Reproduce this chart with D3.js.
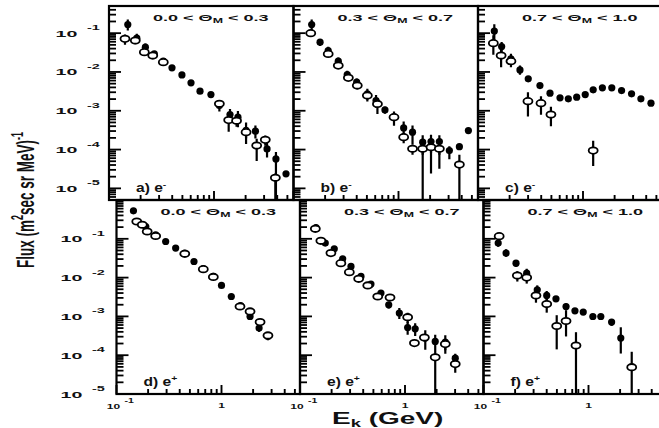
<!DOCTYPE html>
<html><head><meta charset="utf-8">
<script src="https://cdn.jsdelivr.net/npm/d3@7"></script>
<style>
  body { margin: 0; background: #fff; }
  svg { display: block; }
  text { font-family: "Liberation Sans", Arial, sans-serif; font-weight: bold; fill: #111; }
</style>
</head><body>
<svg id="chart" width="659" height="428"></svg>
<script>
// Each point: [kinetic energy (GeV), flux, relative error down, relative error up]
// Two data sets per panel: filled markers and open markers.

// a) e-, 0.0 < ΘM < 0.3
const filledA = [
  [0.151, 0.167, 0.3, 0.35], [0.184, 0.0743, 0.25, 0.3], [0.222, 0.0436, 0.2, 0.25],
  [0.270, 0.0292, 0.15, 0.15], [0.329, 0.019, 0.1, 0.1], [0.398, 0.0128, 0.1, 0.1],
  [0.495, 0.0084, 0.1, 0.1], [0.604, 0.00524, 0.15, 0.15], [0.736, 0.0032, 0.15, 0.15],
  [0.935, 0.00262, 0.15, 0.15], [1.125, 0.00136, 0.3, 0.35], [1.42, 0.000798, 0.35, 0.4],
  [1.69, 0.000684, 0.45, 0.45], [2.02, 0.000311, 0.55, 0.6], [2.48, 0.000298, 0.35, 0.4],
  [3.2, 0.000104, 0.4, 0.5], [3.89, 5.75e-5, 1, 0.5], [4.85, 2.37e-5, 0.1, 0.1]
];
const openA = [
  [0.142, 0.0713, 0.3, 0.3], [0.178, 0.0646, 0.2, 0.2], [0.217, 0.0324, 0.15, 0.15],
  [0.261, 0.0265, 0.15, 0.15], [0.329, 0.0179, 0.1, 0.1], [1.125, 0.00151, 0.2, 0.2],
  [1.38, 0.000574, 0.5, 0.6], [1.64, 0.000552, 0.3, 0.4], [2.02, 0.000281, 0.3, 0.3],
  [2.55, 0.000127, 0.6, 0.5], [3.08, 0.000178, 0.3, 0.3], [3.84, 1.87e-5, 1, 0.3]
];

// b) e-, 0.3 < ΘM < 0.7
const filledB = [
  [0.149, 0.167, 0.3, 0.35], [0.179, 0.0586, 0.2, 0.2], [0.214, 0.0357, 0.2, 0.25],
  [0.267, 0.019, 0.2, 0.25], [0.325, 0.00857, 0.2, 0.25], [0.400, 0.00546, 0.2, 0.25],
  [0.505, 0.00273, 0.3, 0.35], [0.611, 0.00183, 0.35, 0.4], [0.743, 0.00105, 0.2, 0.2],
  [0.906, 0.000684, 0.4, 0.4], [1.12, 0.000362, 0.4, 0.45], [1.36, 0.00028, 0.5, 0.5],
  [1.70, 0.000155, 1, 0.5], [2.04, 0.000161, 0.85, 0.5], [2.45, 0.000161, 0.8, 0.45],
  [3.05, 9.4e-5, 0.4, 0.3], [3.8, 0.000119, 0.1, 0.1], [4.63, 0.000309, 0.1, 0.1]
];
const openB = [
  [0.146, 0.1, 0.2, 0.25], [0.214, 0.0292, 0.15, 0.15], [0.267, 0.0146, 0.15, 0.15],
  [0.333, 0.00705, 0.15, 0.15], [0.405, 0.00447, 0.2, 0.2], [0.505, 0.00247, 0.3, 0.3],
  [0.63, 0.0015, 0.45, 0.4], [0.906, 0.000684, 0.2, 0.2], [1.12, 0.000209, 0.3, 0.3],
  [1.36, 0.000105, 0.3, 0.3], [1.70, 0.000105, 0.3, 0.3], [2.04, 0.000115, 0.3, 0.3],
  [2.45, 0.000105, 0.3, 0.3], [3.8, 4.1e-5, 1, 0.8]
];

// c) e-, 0.7 < ΘM < 1.0
const filledC = [
  [0.143, 0.113, 0.4, 0.5], [0.168, 0.0452, 0.3, 0.3], [0.206, 0.0218, 0.3, 0.35],
  [0.251, 0.0113, 0.25, 0.3], [0.301, 0.00664, 0.1, 0.1], [0.389, 0.00447, 0.15, 0.15],
  [0.485, 0.00284, 0.1, 0.1], [0.604, 0.00215, 0.1, 0.1], [0.725, 0.00203, 0.1, 0.1],
  [0.871, 0.00224, 0.1, 0.1], [1.05, 0.00262, 0.1, 0.1], [1.25, 0.00346, 0.1, 0.1],
  [1.53, 0.00389, 0.1, 0.1], [1.88, 0.00389, 0.1, 0.1], [2.33, 0.00332, 0.1, 0.1],
  [2.9, 0.00273, 0.1, 0.1], [3.56, 0.00203, 0.1, 0.1], [4.44, 0.00157, 0.1, 0.1]
];
const openC = [
  [0.14, 0.0552, 0.5, 0.6], [0.166, 0.0265, 0.5, 0.6], [0.206, 0.019, 0.3, 0.3],
  [0.299, 0.00177, 0.6, 0.7], [0.398, 0.00157, 0.5, 0.5], [0.495, 0.000798, 0.5, 0.6],
  [1.25, 9.4e-5, 0.6, 0.8]
];

// d) e+, 0.0 < ΘM < 0.3
const filledD = [
  [0.145, 0.527, 0.1, 0.1], [0.19, 0.207, 0.1, 0.1], [0.236, 0.127, 0.1, 0.1],
  [0.294, 0.0851, 0.1, 0.1], [0.366, 0.0575, 0.1, 0.1], [0.447, 0.0428, 0.1, 0.1],
  [0.547, 0.026, 0.1, 0.1], [0.671, 0.0169, 0.1, 0.1], [0.836, 0.0107, 0.1, 0.1],
  [1.0, 0.00627, 0.1, 0.1], [1.24, 0.00326, 0.1, 0.1], [1.52, 0.00191, 0.1, 0.1],
  [1.87, 0.000993, 0.15, 0.15], [2.28, 0.000499, 0.2, 0.2], [2.77, 0.000303, 0.2, 0.2]
];
const openD = [
  [0.156, 0.279, 0.1, 0.1], [0.176, 0.23, 0.1, 0.1], [0.196, 0.154, 0.1, 0.1],
  [0.236, 0.118, 0.1, 0.1], [0.447, 0.041, 0.1, 0.1], [0.671, 0.0165, 0.1, 0.1],
  [0.836, 0.0104, 0.1, 0.1], [1.5, 0.0018, 0.1, 0.1], [1.87, 0.00134, 0.1, 0.1],
  [2.33, 0.000713, 0.1, 0.1], [2.77, 0.000323, 0.1, 0.1]
];

// e) e+, 0.3 < ΘM < 0.7
const filledE = [
  [0.142, 0.195, 0.2, 0.2], [0.174, 0.0775, 0.15, 0.15], [0.212, 0.0552, 0.15, 0.15],
  [0.255, 0.0305, 0.1, 0.1], [0.306, 0.0194, 0.1, 0.1], [0.381, 0.0107, 0.1, 0.1],
  [0.474, 0.00679, 0.1, 0.1], [0.59, 0.00399, 0.1, 0.1], [0.7, 0.00199, 0.2, 0.2],
  [0.883, 0.00122, 0.3, 0.35], [1.06, 0.000518, 0.35, 0.4], [1.25, 0.000479, 0.35, 0.4],
  [1.56, 0.000276, 0.5, 0.6], [1.94, 0.000226, 0.5, 0.5], [2.42, 0.000218, 0.5, 0.5],
  [3.01, 8.4e-5, 0.3, 0.3]
];
const openE = [
  [0.14, 0.181, 0.1, 0.1], [0.158, 0.0887, 0.1, 0.1], [0.197, 0.0428, 0.1, 0.1],
  [0.245, 0.0236, 0.1, 0.1], [0.295, 0.0138, 0.1, 0.1], [0.362, 0.0093, 0.1, 0.1],
  [0.442, 0.00627, 0.1, 0.1], [0.55, 0.00326, 0.1, 0.1], [0.72, 0.00307, 0.2, 0.2],
  [1.06, 0.000955, 0.3, 0.3], [1.23, 0.000205, 0.1, 0.1], [1.53, 0.000286, 0.2, 0.2],
  [1.94, 8.8e-5, 1, 0.3], [2.42, 0.000193, 0.3, 0.3], [3.01, 5.9e-5, 0.4, 0.3]
];

// f) e+, 0.7 < ΘM < 1.0
const filledF = [
  [0.138, 0.0775, 0.2, 0.2], [0.164, 0.0428, 0.2, 0.25], [0.204, 0.0236, 0.2, 0.2],
  [0.258, 0.013, 0.25, 0.3], [0.325, 0.00485, 0.25, 0.3], [0.4, 0.00347, 0.3, 0.3],
  [0.49, 0.00284, 0.15, 0.15], [0.611, 0.0018, 0.2, 0.2], [0.743, 0.00139, 0.15, 0.15],
  [0.891, 0.00129, 0.15, 0.15], [1.1, 0.000993, 0.15, 0.15], [1.31, 0.000993, 0.15, 0.15],
  [1.66, 0.000713, 0.2, 0.2], [2.03, 0.000276, 0.6, 0.9]
];
const openF = [
  [0.141, 0.117, 0.15, 0.2], [0.21, 0.0113, 0.3, 0.3], [0.258, 0.01, 0.3, 0.3],
  [0.316, 0.00347, 0.35, 0.35], [0.4, 0.00208, 0.4, 0.4], [0.498, 0.000565, 0.75, 0.9],
  [0.611, 0.00076, 0.6, 0.9], [0.76, 0.000178, 1, 1.2], [2.58, 4.9e-5, 1, 1.5]
];

// Panel annotations
const panelLetters = ["a", "b", "c", "d", "e", "f"];
const panelCharges = ["-", "-", "-", "+", "+", "+"];
const latitudeBins = [["0.0", "0.3"], ["0.3", "0.7"], ["0.7", "1.0"]];
const panelData = [
  [filledA, openA], [filledB, openB], [filledC, openC],
  [filledD, openD], [filledE, openE], [filledF, openF]
];

// Axis ranges (log10 of flux) per row, and energy range start
const fluxLogRanges = [[-5.3, -0.3], [-5, 0]];
const energyMin = 0.1;
const yTickExponents = [-1, -2, -3, -4, -5];
const xAxisTitle = ["E", "k", " (GeV)"];
const yAxisTitle = ["Flux (m", "2", "sec sr MeV)", "-1"];

// ---- layout ----
const layout = [
  { lefts: [109, 293.5, 478], width: 184.5, top: 6, bottom: 200 },
  { lefts: [116.5, 300, 483.5], width: 183.5, top: 200, bottom: 394 }
];
const pxPerDecade = 105;
const ink = "#000";

const svg = d3.select("#chart");
const defs = svg.append("defs");
const panelLayer = svg.append("g");
const tickLayer = svg.append("g").attr("class", "ticks");

function stretched(parent, x, y, sx, size, anchor) {
  return parent.append("text")
    .attr("transform", `translate(${x},${y}) scale(${sx},1)`)
    .attr("font-size", size)
    .attr("text-anchor", anchor || "start");
}

// log-axis tick values: decades and their 2..9 multiples inside [lo, hi]
function logTicks(lo, hi) {
  const out = [];
  for (let e = Math.floor(Math.log10(lo)); e <= Math.ceil(Math.log10(hi)); e++) {
    for (let m = 1; m <= 9; m++) {
      const v = m * Math.pow(10, e);
      if (v >= lo * 0.999 && v <= hi * 1.001) out.push({ v: v, major: m === 1 });
    }
  }
  return out;
}

panelLetters.forEach((letter, i) => {
  const r = i < 3 ? 0 : 1, c = i % 3;
  const L = layout[r];
  const x0 = L.lefts[c], x1 = x0 + L.width;
  const x = d3.scaleLog()
    .domain([energyMin, energyMin * Math.pow(10, L.width / pxPerDecade)])
    .range([x0, x1]);
  const y = d3.scaleLog()
    .domain(fluxLogRanges[r].map(v => Math.pow(10, v)))
    .range([L.bottom, L.top]);
  const g = panelLayer.append("g");

  // clip region for the data marks
  const clipId = "clip-" + letter;
  defs.append("clipPath").attr("id", clipId)
    .append("rect").attr("x", x0).attr("y", L.top)
    .attr("width", L.width).attr("height", L.bottom - L.top);
  const plot = g.append("g").attr("clip-path", `url(#${clipId})`);

  const [filled, open] = panelData[i];
  const lowEdge = y.domain()[0];
  const errLow = d => Math.max(d[1] * (1 - d[2]), lowEdge * 0.5);
  const errHigh = d => d[1] * (1 + d[3]);

  // error bars
  plot.selectAll(null).data(filled.concat(open)).enter().append("line")
    .attr("x1", d => x(d[0])).attr("x2", d => x(d[0]))
    .attr("y1", d => y(errLow(d))).attr("y2", d => y(errHigh(d)))
    .attr("stroke", ink).attr("stroke-width", 2.2);

  // filled markers
  plot.selectAll(null).data(filled).enter().append("circle")
    .attr("cx", d => x(d[0])).attr("cy", d => y(d[1])).attr("r", 3.6)
    .attr("fill", ink);

  // open markers
  plot.selectAll(null).data(open).enter().append("ellipse")
    .attr("cx", d => x(d[0])).attr("cy", d => y(d[1])).attr("rx", 4.5).attr("ry", 3.2)
    .attr("fill", "#fff").attr("stroke", ink).attr("stroke-width", 1.8);

  // frame
  g.append("rect").attr("x", x0).attr("y", L.top)
    .attr("width", L.width).attr("height", L.bottom - L.top)
    .attr("fill", "none").attr("stroke", ink).attr("stroke-width", 2.2);

  // ticks on the left edge, pointing inward (decades longer)
  const yd = y.domain();
  logTicks(yd[0], yd[1]).forEach(t => {
    const yy = y(t.v);
    tickLayer.append("path")
      .attr("d", `M${x0},${yy}H${x0 + (t.major ? 12 : 7)}`)
      .attr("stroke", ink).attr("stroke-width", 1.8).attr("fill", "none");
  });

  // ticks along the bottom edge, pointing inward
  const xd = x.domain();
  logTicks(xd[0], xd[1]).forEach(t => {
    const xx = x(t.v);
    tickLayer.append("path")
      .attr("d", `M${xx},${L.bottom}V${L.bottom - (t.major ? 9 : 5)}`)
      .attr("stroke", ink).attr("stroke-width", 1.9).attr("fill", "none");
  });

  // latitude bin title
  const bin = latitudeBins[c];
  const tt = stretched(g, x0 + 44, L.top + 15, 1.9, 9.5);
  tt.append("tspan").text(bin[0] + " < Θ");
  tt.append("tspan").attr("font-size", 6.5).attr("dy", 2).text("M");
  tt.append("tspan").attr("dy", -2).text(" < " + bin[1]);

  // panel label, e.g. "a) e-"
  const pl = stretched(g, x0 + 27, L.bottom - 8, 1.3, 12);
  pl.append("tspan").text(letter + ") e");
  pl.append("tspan").attr("font-size", 8).attr("dy", -5).text(panelCharges[i]);

  // energy tick labels under the bottom row
  if (r === 1) {
    stretched(svg, x0 - 3, 409, 1.5, 8, "middle").text("10");
    stretched(svg, x0 + 8, 403, 1.5, 7).text("-1");
    stretched(svg, x(1), 408, 1.5, 8, "middle").text("1");
  }

  // flux tick labels along the left column
  if (c === 0) {
    const shift = r === 0 ? 0 : 5;
    yTickExponents.forEach(k => {
      const yy = y(Math.pow(10, k));
      stretched(svg, 66.5 + shift, yy + 3.5, 2.0, 9.8, "middle").text("10");
      stretched(svg, 87 + shift, yy - 3, 1.8, 8).text(String(k));
    });
  }
});

// axis titles
const xTitle = stretched(svg, 332, 424, 1.75, 16);
xTitle.append("tspan").text(xAxisTitle[0]);
xTitle.append("tspan").attr("font-size", 10.5).attr("dy", 3).text(xAxisTitle[1]);
xTitle.append("tspan").attr("dy", -3).text(xAxisTitle[2]);

const yTitle = svg.append("text")
  .attr("transform", "translate(34,200) scale(1.8,1) rotate(-90)")
  .attr("font-size", 13.5).attr("text-anchor", "middle");
yTitle.append("tspan").text(yAxisTitle[0]);
yTitle.append("tspan").attr("font-size", 9).attr("dy", -6).text(yAxisTitle[1]);
yTitle.append("tspan").attr("dy", 6).text(yAxisTitle[2]);
yTitle.append("tspan").attr("font-size", 9).attr("dy", -6).text(yAxisTitle[3]);
</script>
</body></html>
